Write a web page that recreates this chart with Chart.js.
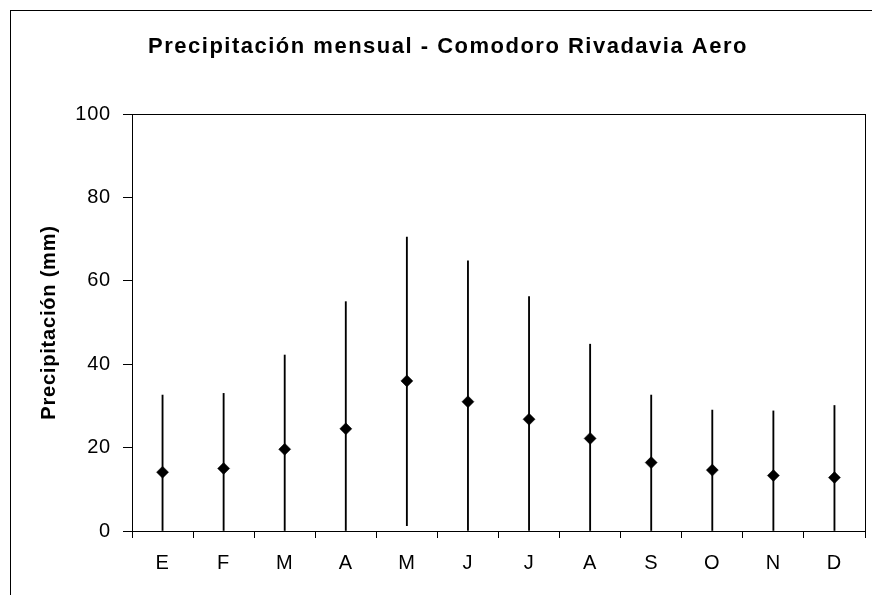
<!DOCTYPE html>
<html>
<head>
<meta charset="utf-8">
<script src="https://cdn.jsdelivr.net/npm/chart.js@4/dist/chart.umd.min.js"></script>
<style>
  html, body { margin: 0; padding: 0; background: #fff; }
  #wrap { width: 872px; height: 595px; }
</style>
</head>
<body>
<div id="wrap"><canvas id="chart" width="872" height="595"></canvas></div>
<script>
// Datos
const meses = ['E', 'F', 'M', 'A', 'M', 'J', 'J', 'A', 'S', 'O', 'N', 'D'];
const media = [14.1, 15.0, 19.6, 24.5, 36.0, 31.0, 26.8, 22.2, 16.4, 14.6, 13.3, 12.8];
const maximo = [32.6, 33.0, 42.2, 55.0, 70.5, 64.8, 56.2, 44.8, 32.6, 29.0, 28.8, 30.1];
const minimo = [0, 0, 0, 0, 1.3, 0, 0, 0, 0, 0, 0, 0];
const yTicks = [0, 20, 40, 60, 80, 100];

const titulo = 'Precipitación mensual - Comodoro Rivadavia Aero';
const tituloEje = 'Precipitación (mm)';
const fuente = '"Liberation Sans", Arial, sans-serif';

// Marco exterior, borde del área de gráfico y título
const marcoPlugin = {
    id: 'marco',
    beforeDraw(chart) {
        chart.ctx.letterSpacing = '0.8px';
    },
    afterDraw(chart) {
        const ctx = chart.ctx;
        const a = chart.chartArea;
        ctx.save();
        ctx.strokeStyle = '#000';
        ctx.lineWidth = 1;
        ctx.strokeRect(10.5, 10.5, 900, 700);
        ctx.strokeRect(Math.round(a.left) + 0.5, Math.round(a.top) + 0.5,
            Math.round(a.right - a.left), Math.round(a.bottom - a.top));
        ctx.fillStyle = '#000';
        ctx.font = 'bold 22px ' + fuente;
        ctx.letterSpacing = '1.5px';
        ctx.textAlign = 'center';
        ctx.textBaseline = 'alphabetic';
        ctx.fillText(titulo, 448, 53);
        ctx.restore();
    }
};

const ctx = document.getElementById('chart');
new Chart(ctx, {
    type: 'bar',
    data: {
        labels: meses,
        datasets: [
            {
                type: 'line',
                label: 'Media',
                data: media,
                showLine: false,
                pointStyle: 'rectRot',
                pointRadius: 6,
                pointBackgroundColor: '#000',
                pointBorderColor: '#000',
                pointBorderWidth: 0.5,
                order: 0
            },
            {
                type: 'bar',
                label: 'Rango',
                data: minimo.map((lo, i) => [lo, maximo[i]]),
                backgroundColor: '#000',
                borderWidth: 0,
                barThickness: 1.2,
                order: 1
            }
        ]
    },
    options: {
        responsive: false,
        animation: false,
        layout: { padding: { top: 114, right: 7, bottom: 0, left: 0 } },
        plugins: {
            legend: { display: false },
            tooltip: { enabled: false },
            title: { display: false }
        },
        scales: {
            x: {
                type: 'category',
                offset: true,
                grid: {
                    offset: true,
                    drawOnChartArea: false,
                    drawTicks: true,
                    tickLength: 7,
                    color: '#000'
                },
                border: { display: true, color: '#000', width: 1 },
                ticks: {
                    color: '#000',
                    padding: 13,
                    maxRotation: 0,
                    autoSkip: false,
                    font: { family: fuente, size: 20 }
                },
                afterFit(scale) { scale.height = 64; }
            },
            y: {
                min: 0,
                max: 100,
                afterBuildTicks(scale) { scale.ticks = yTicks.map(v => ({ value: v })); },
                grid: {
                    drawOnChartArea: false,
                    drawTicks: true,
                    tickLength: 9,
                    color: '#000'
                },
                border: { display: true, color: '#000', width: 1 },
                ticks: {
                    color: '#000',
                    padding: 12,
                    font: { family: fuente, size: 20 }
                },
                title: {
                    display: true,
                    text: tituloEje,
                    color: '#000',
                    padding: { top: 37, bottom: 0 },
                    font: { family: fuente, size: 20, weight: 'bold' }
                },
                afterFit(scale) { scale.width = 132; }
            }
        }
    },
    plugins: [marcoPlugin]
});
</script>
</body>
</html>
